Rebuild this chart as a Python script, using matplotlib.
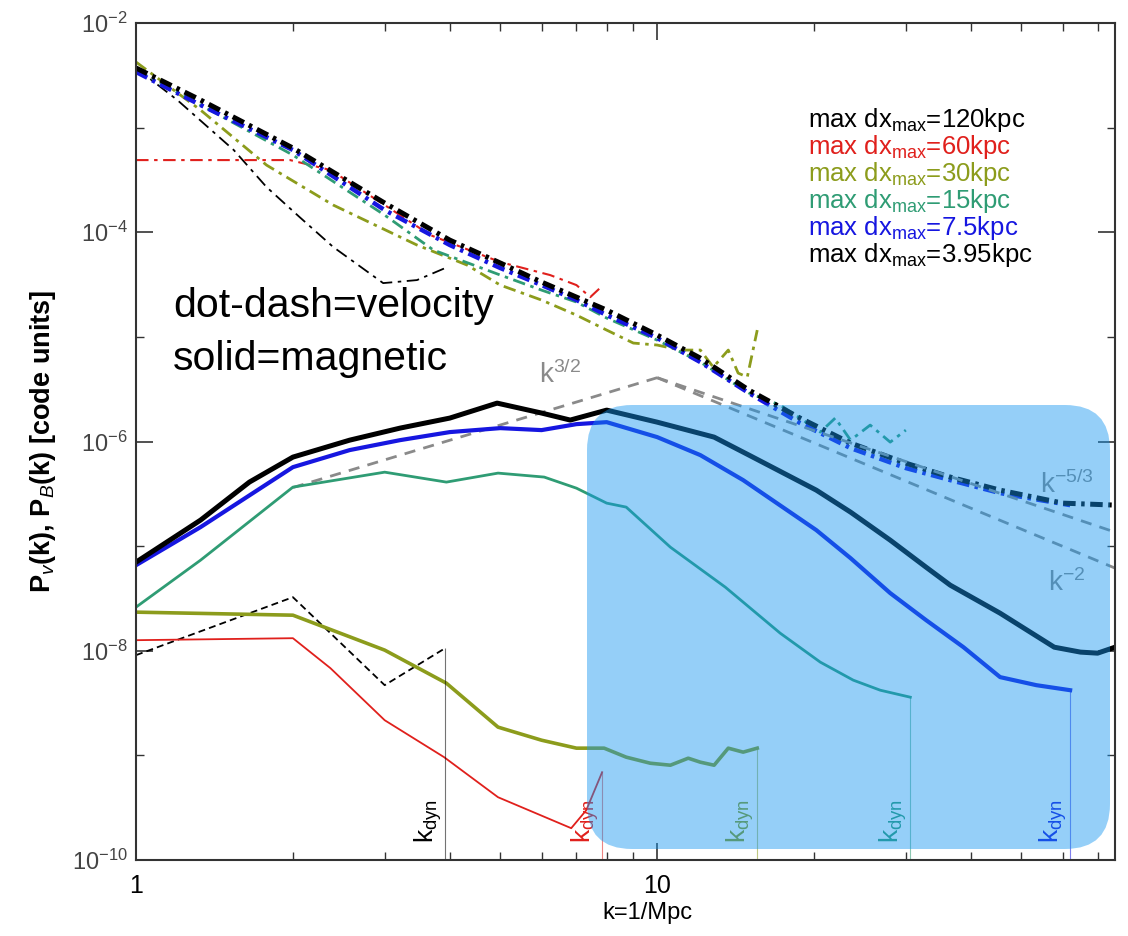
import matplotlib
matplotlib.use("Agg")
import matplotlib.pyplot as plt
import numpy as np
from matplotlib.patches import FancyBboxPatch
from matplotlib.transforms import IdentityTransform
from matplotlib.ticker import FixedLocator, FuncFormatter, NullFormatter, LogLocator

plt.rcParams['font.family'] = ['Liberation Sans', 'DejaVu Sans']
plt.rcParams['mathtext.fontset'] = 'custom'
plt.rcParams['mathtext.rm'] = 'Liberation Sans'
plt.rcParams['mathtext.it'] = 'Liberation Sans:italic'
plt.rcParams['mathtext.bf'] = 'Liberation Sans:bold'
plt.rcParams['lines.scale_dashes'] = False

# --- series labels / colours -------------------------------------------------
labels = ['120kpc', '60kpc', '30kpc', '15kpc', '7.5kpc', '3.95kpc']
colors = ['#000000', '#e0201c', '#8c9c1c', '#2f9c74', '#1616e0', '#000000']

# k_dyn per run (same order, without the last one)
k_dyn = [3.92, 7.84, 15.56, 30.6, 62.0]

# --- magnetic spectra (solid), log10 P ---------------------------------------
kB_120 = [1, 2, 3, 3.92]
lB_120 = [-8.042, -7.488, -8.329, -7.975]

kB_60 = [1, 2, 2.36, 3, 3.9, 4.95, 6.84, 7.31, 7.84]
lB_60 = [-7.899, -7.880, -8.166, -8.664, -9.017, -9.400, -9.696, -9.524, -9.161]

kB_30 = [1, 2, 3, 3.94, 4.95, 6, 7, 7.91, 8.72, 9.70, 10.6, 11.47, 12.1, 12.86, 13.69, 14.62, 15.56]
lB_30 = [-7.631, -7.660, -7.994, -8.310, -8.730, -8.855, -8.931, -8.931, -9.017, -9.075,
         -9.094, -9.027, -9.065, -9.094, -8.931, -8.969, -8.931]

kB_15 = [1, 1.33, 2, 3, 3.94, 4.95, 6.07, 7, 8, 8.72, 10.6, 13.51, 17.22, 20.56, 23.78, 26.79, 30.6]
lB_15 = [-7.583, -7.134, -6.436, -6.293, -6.388, -6.302, -6.340, -6.446, -6.589, -6.627,
         -7.010, -7.392, -7.832, -8.109, -8.281, -8.377, -8.444]

kB_7 = [1, 1.33, 2, 2.57, 3.21, 4, 5, 6, 7, 8, 10, 12.1, 14.62, 20.2, 23.5, 28.0, 32.8,
        38.7, 45.5, 53.4, 62.0]
lB_7 = [-7.182, -6.818, -6.245, -6.082, -5.987, -5.910, -5.872, -5.891, -5.834, -5.815,
        -5.958, -6.130, -6.369, -6.847, -7.115, -7.449, -7.707, -7.966, -8.252, -8.329, -8.377]

kB_4 = [1, 1.33, 1.65, 2, 2.57, 3.21, 4, 4.93, 6, 6.81, 8, 10, 12.86, 15, 20.2, 23.5, 28.0,
        32.8, 36.5, 45.5, 57.8, 64.9, 70, 75.6]
lB_4 = [-7.153, -6.751, -6.388, -6.149, -5.987, -5.872, -5.776, -5.633, -5.728, -5.795,
        -5.700, -5.815, -5.958, -6.130, -6.465, -6.675, -6.943, -7.201, -7.373, -7.641,
        -7.966, -8.013, -8.023, -7.966]

# --- velocity spectra (dot-dash), log10 P --------------------------------------
kV_120 = [1, 1.20, 1.54, 1.78, 2.06, 2.39, 2.98, 3.46, 3.92]
lV_120 = [-2.430, -2.736, -3.214, -3.568, -3.855, -4.141, -4.486, -4.457, -4.342]

kV_60 = [1, 1.975, 2.36, 3, 3.67, 5, 6.23, 7, 7.44, 7.84]
lV_60 = [-3.310, -3.310, -3.405, -3.740, -4.027, -4.285, -4.409, -4.505, -4.620, -4.514]

kV_30 = [1, 1.33, 1.78, 2.39, 3.46, 4.32, 5, 6, 7, 8, 9, 10, 11.07, 12.1, 12.81, 13.69,
         14.3, 14.89, 15.56]
lV_30 = [-2.373, -2.832, -3.358, -3.740, -4.122, -4.314, -4.505, -4.648, -4.792, -4.935,
         -5.059, -5.078, -5.126, -5.126, -5.289, -5.126, -5.346, -5.384, -4.935]

kV_15 = [1, 1.33, 2, 3, 3.72, 5, 6, 7, 8, 10, 12.1, 15, 17.22, 18.8, 20.56, 21.96, 23.5,
         25.63, 28.0, 30.0]
lV_15 = [-2.449, -2.784, -3.262, -3.836, -4.170, -4.409, -4.553, -4.667, -4.820, -5.031,
         -5.241, -5.537, -5.652, -5.776, -5.910, -5.776, -5.987, -5.843, -6.006, -5.891]

kV_7 = [1, 1.33, 2, 3, 4, 5, 6, 7, 8, 10, 12.1, 15, 18.8, 23.5, 30, 36.5, 45.5, 54.3, 62.0]
lV_7 = [-2.468, -2.784, -3.214, -3.788, -4.122, -4.342, -4.505, -4.648, -4.792, -5.011,
        -5.241, -5.537, -5.824, -6.063, -6.254, -6.369, -6.493, -6.560, -6.608]

kV_4 = [1, 1.33, 2, 3, 4, 5, 6, 7, 8, 10, 12.1, 15, 18.8, 23.5, 30, 36.5, 45.5, 60, 75.6]
lV_4 = [-2.430, -2.736, -3.195, -3.721, -4.075, -4.294, -4.476, -4.620, -4.744, -4.983,
        -5.203, -5.509, -5.776, -6.015, -6.207, -6.340, -6.465, -6.589, -6.608]

# --- reference power laws (gray dashed), end points -------------------------
k_rise = [2, 10]
l_rise = [-6.44, -5.39]
k_kol = [10, 75.6]
l_kol = [-5.39, -6.866]
k_steep = [10, 75.6]
l_steep = [-5.39, -7.21]

fig = plt.figure(figsize=(11.28, 9.36), dpi=100)
ax = fig.add_axes([0.1206, 0.0812, 0.8679, 0.8942])
ax.set_xscale('log')
ax.set_yscale('log')

dd = (0, (9, 4, 2.5, 4))

# velocity
ax.plot(kV_120, np.power(10.0, lV_120), color=colors[0], lw=1.3, ls=dd)
ax.plot(kV_60, np.power(10.0, lV_60), color=colors[1], lw=1.5, ls=dd)
ax.plot(kV_30, np.power(10.0, lV_30), color=colors[2], lw=2.0, ls=dd)
ax.plot(kV_15, np.power(10.0, lV_15), color=colors[3], lw=2.0, ls=dd)
ax.plot(kV_7, np.power(10.0, lV_7), color=colors[4], lw=3.2, ls=dd)
ax.plot(kV_4, np.power(10.0, lV_4), color=colors[5], lw=3.6, ls=dd)

# power laws
gray = '#8a8a8a'
for kk, ll in [(k_rise, l_rise), (k_kol, l_kol), (k_steep, l_steep)]:
    ax.plot(kk, np.power(10.0, ll), color=gray, lw=2.0, ls=(0, (8, 6)))

# magnetic
ax.plot(kB_120, np.power(10.0, lB_120), color=colors[0], lw=1.3, ls=(0, (5, 3)))
ax.plot(kB_60, np.power(10.0, lB_60), color=colors[1], lw=1.3)
ax.plot(kB_30, np.power(10.0, lB_30), color=colors[2], lw=2.6)
ax.plot(kB_15, np.power(10.0, lB_15), color=colors[3], lw=2.0)
ax.plot(kB_7, np.power(10.0, lB_7), color=colors[4], lw=3.0)
ax.plot(kB_4, np.power(10.0, lB_4), color=colors[5], lw=3.6)

# k_dyn markers
ends = [lB_120[-1], lB_60[-1], lB_30[-1], lB_15[-1], lB_7[-1]]
for kd, le, c in zip(k_dyn, ends, colors[:5]):
    ax.vlines(kd, 1e-10, 10 ** le, color=c, lw=0.8, alpha=0.55)
    ax.annotate(r'k$_{\mathrm{dyn}}$', xy=(kd, 1e-10), xytext=(-1, 12),
                textcoords='offset points', rotation=90, ha='right', va='bottom',
                color=c, fontsize=19)

ax.text(6.5, 10 ** -5.365, r'k$^{3/2}$', color=gray, fontsize=20, ha='center', va='center')
ax.text(61.0, 10 ** -6.417, r'k$^{-5/3}$', color=gray, fontsize=20, ha='center', va='center')
ax.text(61.0, 10 ** -7.354, r'k$^{-2}$', color=gray, fontsize=20, ha='center', va='center')

ax.text(0.038, 0.6487, 'dot-dash=velocity', transform=ax.transAxes, fontsize=29.5,
        va='baseline', ha='left')
ax.text(0.038, 0.5854, 'solid=magnetic', transform=ax.transAxes, fontsize=29.5,
        va='baseline', ha='left')

for i, (lab, c) in enumerate(zip(labels, colors)):
    ax.text(0.686, 0.8757 - i * 0.03226, r'max dx$_{\mathrm{max}}$=' + lab,
            transform=ax.transAxes, color=c, fontsize=18.5, va='baseline', ha='left')

ax.set_xlim(1, 75.6)
ax.set_ylim(1e-10, 1e-2)

ax.yaxis.set_major_locator(FixedLocator([1e-10, 1e-8, 1e-6, 1e-4, 1e-2]))
ax.yaxis.set_minor_locator(FixedLocator([1e-9, 1e-7, 1e-5, 1e-3]))
ax.yaxis.set_major_formatter(FuncFormatter(lambda v, p: r'10$^{%d}$' % round(np.log10(v))))
ax.yaxis.set_minor_formatter(NullFormatter())
ax.xaxis.set_major_locator(FixedLocator([1, 10]))
ax.xaxis.set_minor_locator(LogLocator(base=10, subs=np.arange(2, 10)))
ax.xaxis.set_major_formatter(FuncFormatter(lambda v, p: '%d' % round(v)))
ax.xaxis.set_minor_formatter(NullFormatter())

ax.tick_params(which='both', direction='in', top=True, right=True, color='#333333')
ax.tick_params(which='major', length=12, width=1.2)
ax.tick_params(which='minor', length=6, width=1.0)
ax.tick_params(axis='x', labelsize=18, pad=10)
ax.tick_params(axis='y', labelsize=17, labelcolor='#444444', pad=6)
for s in ax.spines.values():
    s.set_linewidth(1.5)
    s.set_color('#333333')

ax.set_xlabel('k=1/Mpc', fontsize=17)
ax.xaxis.set_label_coords(0.522, -0.05)
ax.set_ylabel(r'P$_v$(k), P$_B$(k) [code units]', fontsize=19.5, fontweight='bold')
ax.yaxis.set_label_coords(-0.08, 0.5)

box = FancyBboxPatch((587, 87), 523, 444, boxstyle='round,pad=0,rounding_size=45',
                     transform=IdentityTransform(), facecolor='#1496f0', alpha=0.45,
                     edgecolor='none', zorder=20)
fig.add_artist(box)

fig.savefig('out.png', dpi=100)
